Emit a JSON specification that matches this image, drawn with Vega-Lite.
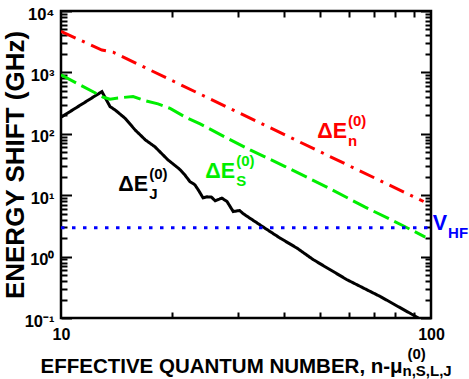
{
  "$schema": "https://vega.github.io/schema/vega-lite/v6.json",
  "width": 370,
  "height": 307,
  "autosize": {"type": "none"},
  "padding": {"left": 61, "top": 11, "right": 38, "bottom": 61},
  "background": "white",
  "config": {
    "view": {"stroke": "black", "strokeWidth": 2.5},
    "font": "Liberation Sans",
    "axis": {
      "domain": false,
      "grid": false,
      "tickColor": "black",
      "tickWidth": 2,
      "labelColor": "black",
      "titleColor": "black",
      "labelFont": "Liberation Sans",
      "titleFont": "Liberation Sans",
      "labelFontWeight": "bold",
      "titleFontWeight": "bold",
      "labelFlush": false
    }
  },
  "datasets": {
    "curves": [
      {"series": "J", "x": 10, "y": 186},
      {"series": "J", "x": 12.9, "y": 486},
      {"series": "J", "x": 13.57, "y": 277},
      {"series": "J", "x": 14.0, "y": 245},
      {"series": "J", "x": 14.9, "y": 179},
      {"series": "J", "x": 15.85, "y": 116},
      {"series": "J", "x": 16.9, "y": 79.6},
      {"series": "J", "x": 17.95, "y": 61.2},
      {"series": "J", "x": 19.45, "y": 37.7},
      {"series": "J", "x": 20.7, "y": 27.9},
      {"series": "J", "x": 21.0, "y": 25.9},
      {"series": "J", "x": 21.6, "y": 21.5},
      {"series": "J", "x": 22.3, "y": 16.7},
      {"series": "J", "x": 23.0, "y": 14.8},
      {"series": "J", "x": 23.5, "y": 12.2},
      {"series": "J", "x": 24.2, "y": 9.06},
      {"series": "J", "x": 24.8, "y": 9.41},
      {"series": "J", "x": 25.5, "y": 9.31},
      {"series": "J", "x": 26.1, "y": 8.11},
      {"series": "J", "x": 27.2, "y": 8.98},
      {"series": "J", "x": 28.1, "y": 7.89},
      {"series": "J", "x": 29.2, "y": 5.42},
      {"series": "J", "x": 30.4, "y": 5.63},
      {"series": "J", "x": 31.1, "y": 4.98},
      {"series": "J", "x": 35.2, "y": 3.03},
      {"series": "J", "x": 39.1, "y": 2.0},
      {"series": "J", "x": 43.4, "y": 1.38},
      {"series": "J", "x": 48.1, "y": 0.889},
      {"series": "J", "x": 59.3, "y": 0.42},
      {"series": "J", "x": 72.9, "y": 0.224},
      {"series": "J", "x": 92.5, "y": 0.1},
      {"series": "S", "x": 10, "y": 910},
      {"series": "S", "x": 13.02, "y": 394},
      {"series": "S", "x": 13.57, "y": 366},
      {"series": "S", "x": 14.26, "y": 384},
      {"series": "S", "x": 15.66, "y": 404},
      {"series": "S", "x": 16.87, "y": 347},
      {"series": "S", "x": 18.29, "y": 307},
      {"series": "S", "x": 19.72, "y": 259},
      {"series": "S", "x": 21.65, "y": 188},
      {"series": "S", "x": 23.77, "y": 145},
      {"series": "S", "x": 27.77, "y": 88.1},
      {"series": "S", "x": 32.44, "y": 54.7},
      {"series": "S", "x": 40.35, "y": 29.3},
      {"series": "S", "x": 51.8, "y": 13.95},
      {"series": "S", "x": 66.4, "y": 6.4},
      {"series": "S", "x": 84.1, "y": 3.18},
      {"series": "S", "x": 96.5, "y": 2.08},
      {"series": "n", "x": 10, "y": 4640},
      {"series": "n", "x": 12.9, "y": 2317},
      {"series": "n", "x": 13.83, "y": 2128},
      {"series": "n", "x": 95.5, "y": 7.89},
      {"series": "HF", "x": 10, "y": 2.94},
      {"series": "HF", "x": 100, "y": 2.94}
    ],
    "labels": [
      {"series": "J", "x": 17.2, "y": 11.8, "main": "ΔE", "sub": "J", "sup": "(0)"},
      {"series": "S", "x": 29.56, "y": 18.97, "main": "ΔE", "sub": "S", "sup": "(0)"},
      {"series": "n", "x": 59.3, "y": 84.9, "main": "ΔE", "sub": "n", "sup": "(0)"},
      {"series": "HF", "x": 110.5, "y": 2.73, "main": "V", "sub": "HF", "sup": ""}
    ]
  },
  "layer": [
    {
      "data": {"name": "curves"},
      "mark": {"type": "line", "strokeWidth": 3, "clip": true},
      "encoding": {
        "x": {
          "field": "x", "type": "quantitative",
          "scale": {"type": "log", "domain": [10, 100], "nice": false},
          "axis": {
            "orient": "bottom", "values": [10, 100], "ticks": false,
            "labelFontSize": 16, "labelPadding": 8,
            "title": "EFFECTIVE QUANTUM NUMBER, n-μ", "titleFontSize": 20.5,
            "titleX": -21, "titleY": 54, "titleAlign": "left", "titleBaseline": "alphabetic", "titleAngle": 0
          }
        },
        "y": {
          "field": "y", "type": "quantitative",
          "scale": {"type": "log", "domain": [0.1, 10000], "nice": false},
          "axis": {
            "orient": "left", "values": [0.1, 1, 10, 100, 1000, 10000],
            "tickSize": -10.5, "labelPadding": 17.5, "labelFontSize": 16.5, "labelOffset": 3,
            "labelExpr": "datum.value < 0.5 ? '10⁻¹' : datum.value < 5 ? '10⁰' : datum.value < 50 ? '10¹' : datum.value < 500 ? '10²' : datum.value < 5000 ? '10³' : '10⁴'",
            "title": "ENERGY SHIFT (GHz)", "titleFontSize": 26,
            "titleX": -38, "titleY": 153.5, "titleAngle": 270, "titleAlign": "center", "titleBaseline": "alphabetic"
          }
        },
        "color": {
          "field": "series", "type": "nominal",
          "scale": {"domain": ["J", "S", "n", "HF"], "range": ["#000000", "#00ee00", "#ff0000", "#0000ff"]},
          "legend": null
        },
        "strokeDash": {
          "field": "series", "type": "nominal",
          "scale": {"domain": ["J", "S", "n", "HF"], "range": [[1, 0], [17, 6], [16, 7, 3, 7], [3.5, 7.5]]},
          "legend": null
        }
      }
    },
    {
      "data": {"name": "labels"},
      "mark": {"type": "text", "align": "right", "baseline": "alphabetic", "fontSize": 21.5, "fontWeight": "bold"},
      "encoding": {
        "x": {
          "field": "x", "type": "quantitative",
          "scale": {"type": "log", "domain": [10, 100], "nice": false},
          "axis": {
            "orient": "bottom", "values": [20, 30, 40, 50, 60, 70, 80, 90],
            "tickSize": -6, "labels": false,
            "title": "(0)", "titleFontSize": 15,
            "titleX": 346, "titleY": 40, "titleAlign": "left", "titleBaseline": "alphabetic", "titleAngle": 0
          }
        },
        "y": {
          "field": "y", "type": "quantitative",
          "scale": {"type": "log", "domain": [0.1, 10000], "nice": false},
          "axis": {
            "orient": "left",
            "values": [0.2, 0.3, 0.4, 0.5, 0.6, 0.7, 0.8, 0.9, 2, 3, 4, 5, 6, 7, 8, 9, 20, 30, 40, 50, 60, 70, 80, 90, 200, 300, 400, 500, 600, 700, 800, 900, 2000, 3000, 4000, 5000, 6000, 7000, 8000, 9000],
            "tickSize": -6, "labels": false, "title": null
          }
        },
        "text": {"field": "main", "type": "nominal"},
        "color": {"field": "series", "type": "nominal", "legend": null}
      }
    },
    {
      "data": {"name": "labels"},
      "mark": {"type": "text", "align": "left", "baseline": "alphabetic", "fontSize": 15, "fontWeight": "bold", "dx": 1, "dy": 8},
      "encoding": {
        "x": {
          "field": "x", "type": "quantitative",
          "scale": {"type": "log", "domain": [10, 100], "nice": false},
          "axis": {
            "orient": "bottom", "values": [], "ticks": false, "labels": false,
            "title": "n,S,L,J", "titleFontSize": 15,
            "titleX": 341, "titleY": 57, "titleAlign": "left", "titleBaseline": "alphabetic", "titleAngle": 0
          }
        },
        "y": {
          "field": "y", "type": "quantitative",
          "scale": {"type": "log", "domain": [0.1, 10000], "nice": false},
          "axis": {
            "orient": "right", "values": [0.1, 1, 10, 100, 1000, 10000],
            "tickSize": -10.5, "labels": false, "title": null
          }
        },
        "text": {"field": "sub", "type": "nominal"},
        "color": {"field": "series", "type": "nominal", "legend": null}
      }
    },
    {
      "data": {"name": "labels"},
      "mark": {"type": "text", "align": "left", "baseline": "alphabetic", "fontSize": 15, "fontWeight": "bold", "dx": 1, "dy": -12},
      "encoding": {
        "x": {
          "field": "x", "type": "quantitative",
          "scale": {"type": "log", "domain": [10, 100], "nice": false},
          "axis": {
            "orient": "top", "values": [20, 30, 40, 50, 60, 70, 80, 90],
            "tickSize": -6, "labels": false, "title": null
          }
        },
        "y": {
          "field": "y", "type": "quantitative",
          "scale": {"type": "log", "domain": [0.1, 10000], "nice": false},
          "axis": {
            "orient": "right",
            "values": [0.2, 0.3, 0.4, 0.5, 0.6, 0.7, 0.8, 0.9, 2, 3, 4, 5, 6, 7, 8, 9, 20, 30, 40, 50, 60, 70, 80, 90, 200, 300, 400, 500, 600, 700, 800, 900, 2000, 3000, 4000, 5000, 6000, 7000, 8000, 9000],
            "tickSize": -6, "labels": false, "title": null
          }
        },
        "text": {"field": "sup", "type": "nominal"},
        "color": {"field": "series", "type": "nominal", "legend": null}
      }
    }
  ],
  "resolve": {"axis": {"x": "independent", "y": "independent"}}
}
